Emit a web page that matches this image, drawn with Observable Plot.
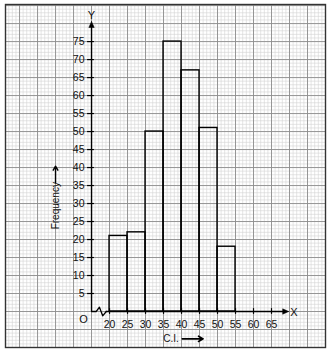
<!DOCTYPE html>
<html>
<head>
<meta charset="utf-8">
<script src="https://cdn.jsdelivr.net/npm/d3@7"></script>
<script src="https://cdn.jsdelivr.net/npm/@observablehq/plot@0.6"></script>
<style>
  html, body { margin: 0; padding: 0; background: #fff; }
  #chart svg { display: block; font-family: "Liberation Sans", Arial, Helvetica, sans-serif; }
</style>
</head>
<body>
<div id="chart"></div>
<script>
// Class intervals (C.I.) and frequencies
const classLower = [20, 25, 30, 35, 40, 45, 50];
const classUpper = [25, 30, 35, 40, 45, 50, 55];
const frequency  = [21, 22, 50, 75, 67, 51, 18];

// Tick labels
const xTickValues = [20, 25, 30, 35, 40, 45, 50, 55, 60, 65];
const yTickValues = [5, 10, 15, 20, 25, 30, 35, 40, 45, 50, 55, 60, 65, 70, 75];

// Axis titles
const xTitle = "C.I.";
const yTitle = "Frequency";

const bars = classLower.map((lo, i) => ({lo, hi: classUpper[i], f: frequency[i]}));

const axisX0 = 15; // where the (broken) y-axis sits on the x scale

const chart = Plot.plot({
  width: 329,
  height: 354,
  marginLeft: 5,
  marginRight: 4,
  marginTop: 4,
  marginBottom: 7,
  x: {domain: [-8.9, 80], axis: null},
  y: {domain: [-10, 85.3], axis: null},
  style: {background: "#fff", color: "#000"},
  marks: [
    // graph paper: minor grid
    Plot.ruleX(d3.range(-8, 81, 1), {stroke: "#d4d4d4", strokeWidth: 0.6}),
    Plot.ruleY(d3.range(-10, 86, 1), {stroke: "#d4d4d4", strokeWidth: 0.6}),
    // graph paper: major grid
    Plot.ruleX(d3.range(-5, 81, 5), {stroke: "#8c8c8c", strokeWidth: 0.9}),
    Plot.ruleY(d3.range(-10, 86, 5), {stroke: "#8c8c8c", strokeWidth: 0.9}),
    Plot.frame({stroke: "#333", strokeWidth: 1.4}),

    // histogram bars
    Plot.rect(bars, {x1: "lo", x2: "hi", y1: 0, y2: "f", fill: "none", stroke: "#000", strokeWidth: 1.4}),

    // y axis
    Plot.ruleX([axisX0], {y1: 0, y2: 79.5, stroke: "#000", strokeWidth: 1.4}),
    Plot.line([[axisX0, 80.6], [axisX0 - 0.75, 78.9], [axisX0 + 0.75, 78.9], [axisX0, 80.6]],
      {fill: "#000", stroke: "#000", strokeWidth: 0.5}),
    // x axis with break zigzag
    Plot.line([[axisX0, 0], [axisX0 + 1.3, 0], [axisX0 + 2.2, 1.2], [axisX0 + 3.1, -1.2], [axisX0 + 4.1, 0]],
      {stroke: "#000", strokeWidth: 1.3}),
    Plot.ruleY([0], {x1: axisX0 + 4.1, x2: 68.6, stroke: "#000", strokeWidth: 1.4}),
    Plot.line([[69.8, 0], [68.1, 0.75], [68.1, -0.75], [69.8, 0]],
      {fill: "#000", stroke: "#000", strokeWidth: 0.5}),

    // ticks
    Plot.ruleY(yTickValues, {x1: axisX0 - 1.1, x2: axisX0 + 0.8, stroke: "#000", strokeWidth: 1.2}),
    Plot.ruleX(xTickValues, {y1: -0.8, y2: 0.8, stroke: "#000", strokeWidth: 1.2}),

    // tick labels
    Plot.text(yTickValues, {x: axisX0, y: d => d, dx: -7, textAnchor: "end", fontSize: 10.5, fill: "#111"}),
    Plot.text(xTickValues, {x: d => d, y: 0, dy: 13, fontSize: 10.5, fill: "#111"}),
    Plot.text(["O"], {x: axisX0, y: 0, dx: -8, dy: 8, fontSize: 11, fill: "#111"}),
    Plot.text(["X"], {x: 71.2, y: -0.3, fontSize: 11, fill: "#111"}),
    Plot.text(["Y"], {x: axisX0, y: 82.3, fontSize: 11, fill: "#111"}),

    // axis titles with arrows
    Plot.text([yTitle], {x: 5.0, y: 29.4, rotate: -90, fontSize: 10, fill: "#111"}),
    Plot.arrow([0], {x1: 5.0, y1: 35.8, x2: 5.0, y2: 40.4, stroke: "#000", strokeWidth: 1.4, headLength: 5}),
    Plot.text([xTitle], {x: 37.1, y: -7.6, fontSize: 10, fill: "#111"}),
    Plot.arrow([0], {x1: 40.2, y1: -7.6, x2: 46.0, y2: -7.6, stroke: "#000", strokeWidth: 1.6, headLength: 5})
  ]
});

document.getElementById("chart").appendChild(chart);
</script>
</body>
</html>
